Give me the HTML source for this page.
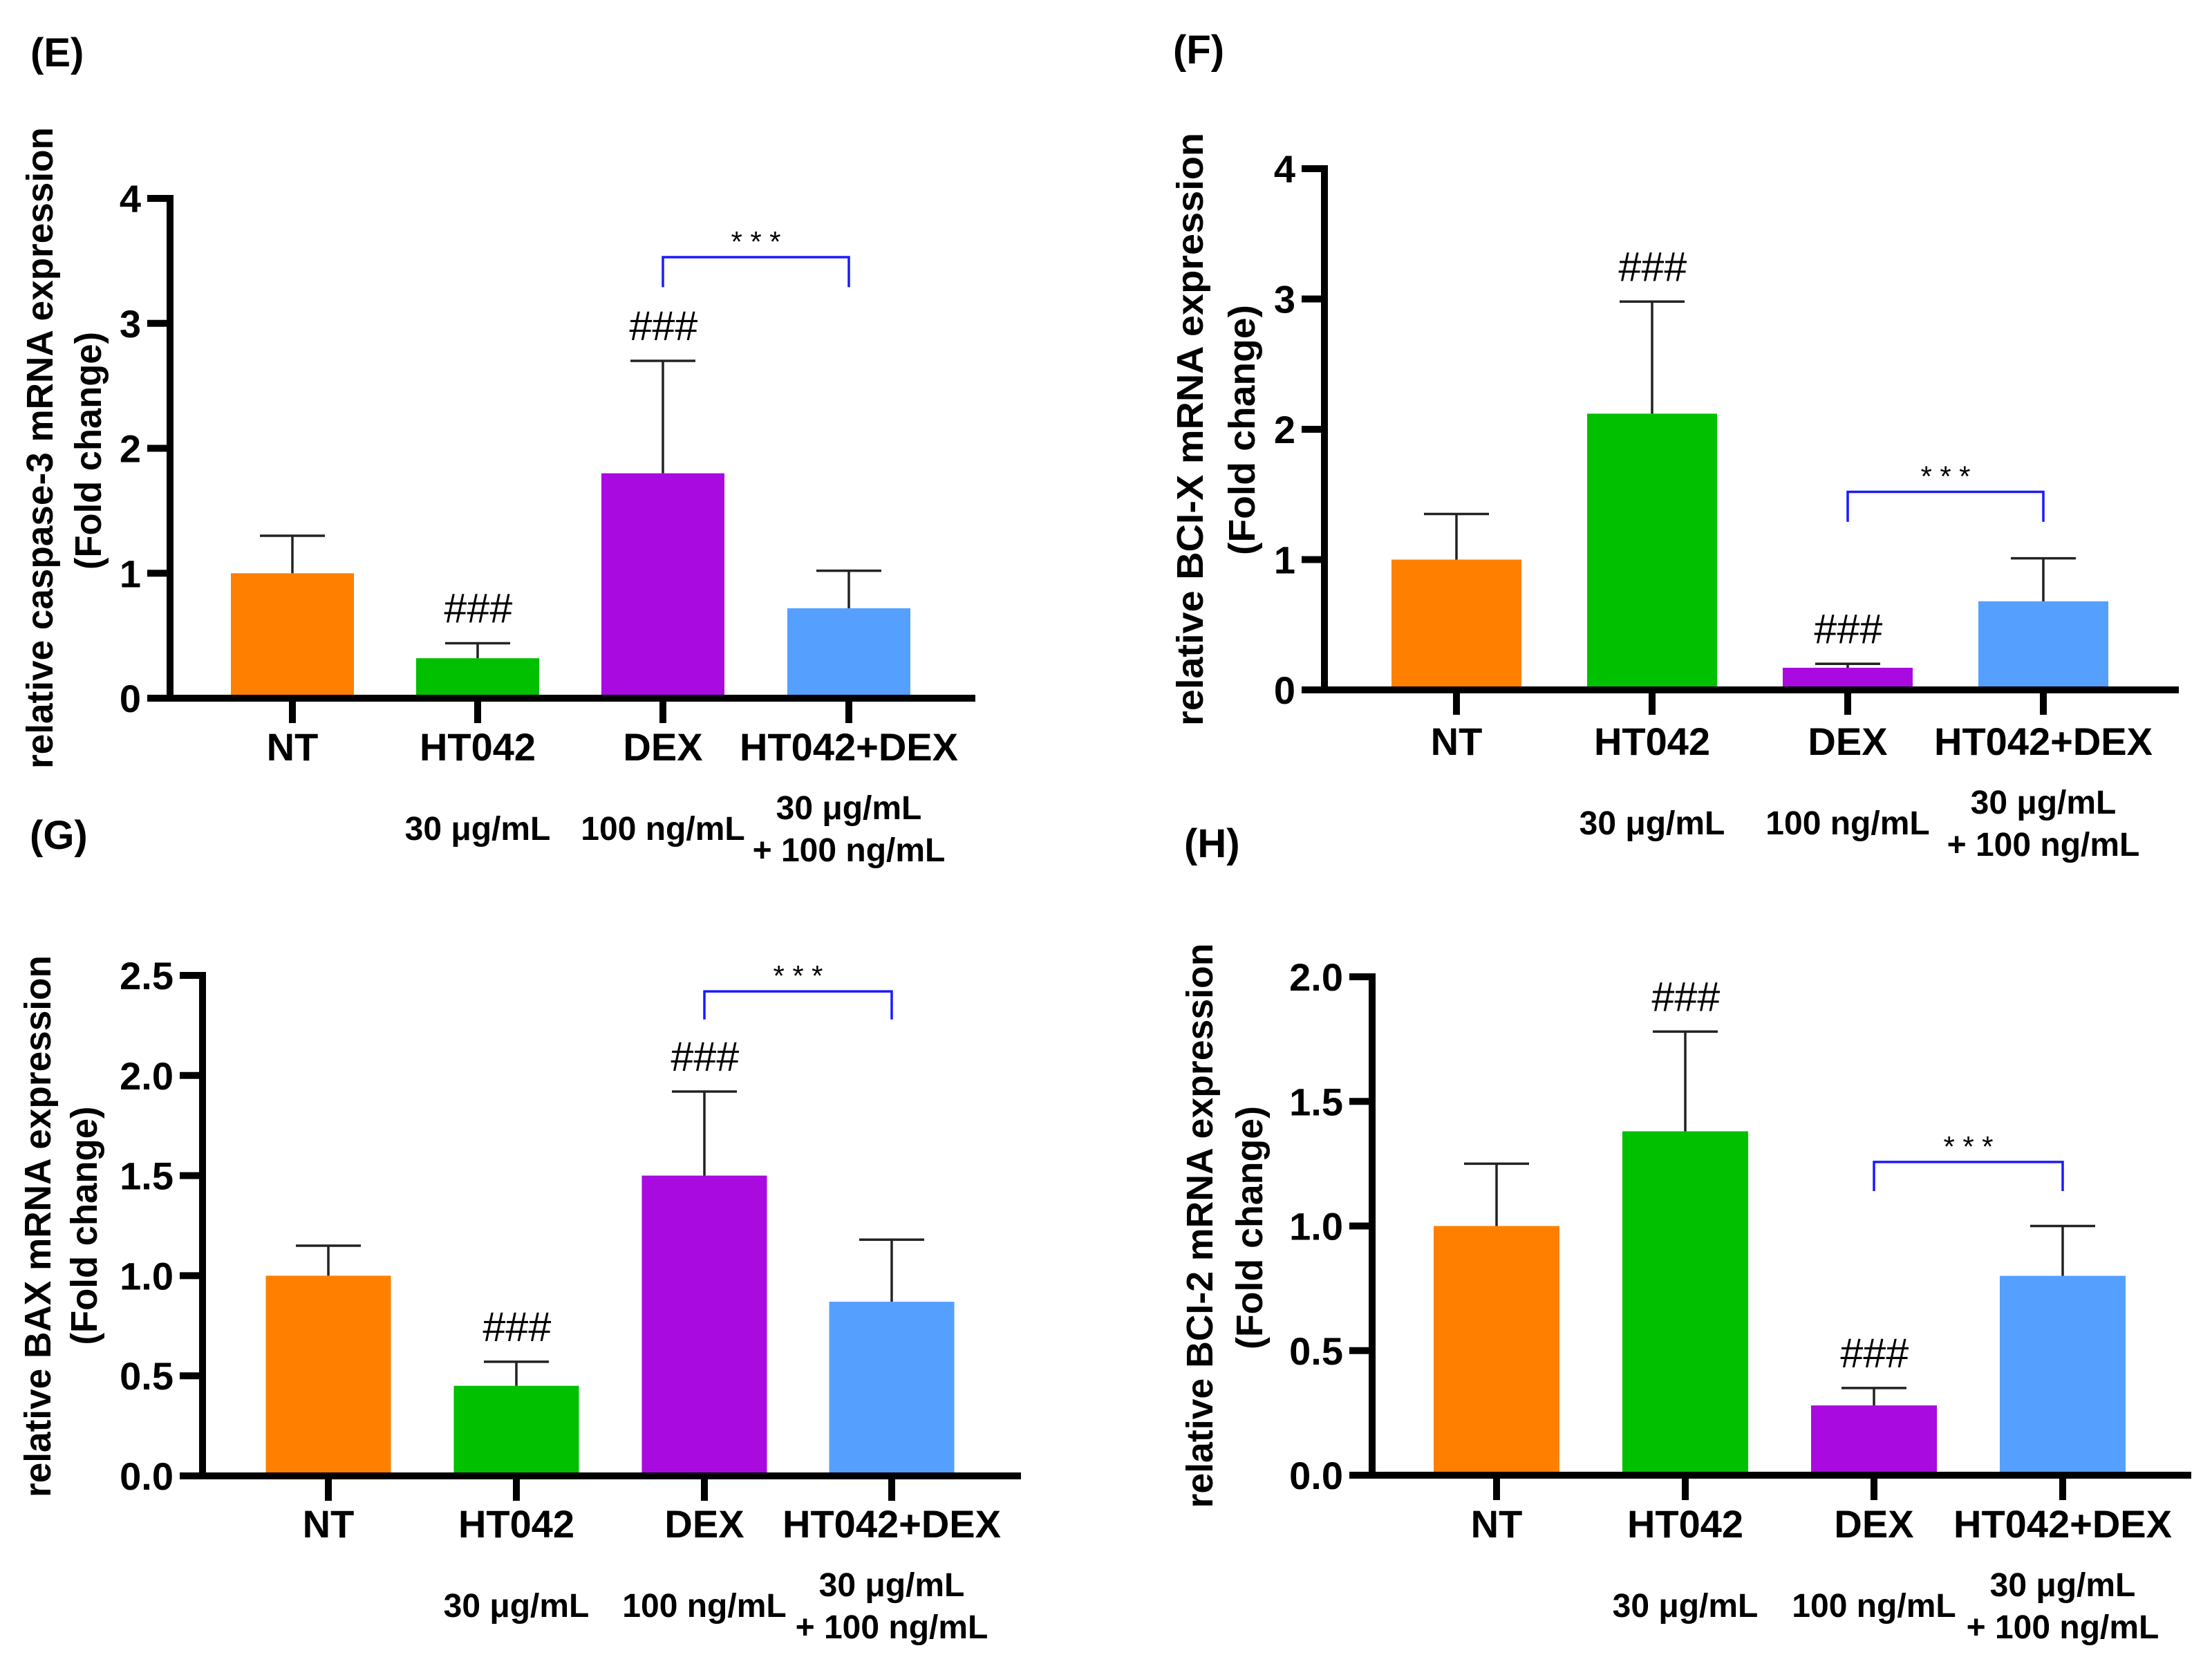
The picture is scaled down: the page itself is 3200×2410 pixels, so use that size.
<!DOCTYPE html>
<html><head><meta charset="utf-8"><style>
html,body{margin:0;padding:0;background:#fff;}
svg{display:block;}
text{font-family:"Liberation Sans",Arial,sans-serif;}
</style></head>
<body>
<svg id="fig" width="3200" height="2410" viewBox="0 0 3200 2410" xmlns="http://www.w3.org/2000/svg"></svg>
<script>
const categories = ["NT","HT042","DEX","HT042+DEX"];
const subLabels = ["", "30 μg/mL", "100 ng/mL", "30 μg/mL|+ 100 ng/mL"];
const colors = ["#FF8000","#00C000","#A90AE0","#55A0FF"];
const meansE = [1.0, 0.32, 1.8, 0.72];
const errE = [1.3, 0.44, 2.7, 1.02];
const ticksE = [0,1,2,3,4];
const tickLabelsE = ["0","1","2","3","4"];
const meansF = [1.0, 2.12, 0.17, 0.68];
const errF = [1.35, 2.98, 0.2, 1.01];
const ticksF = [0,1,2,3,4];
const tickLabelsF = ["0","1","2","3","4"];
const meansG = [1.0, 0.45, 1.5, 0.87];
const errG = [1.15, 0.57, 1.92, 1.18];
const ticksG = [0,0.5,1,1.5,2,2.5];
const tickLabelsG = ["0.0","0.5","1.0","1.5","2.0","2.5"];
const meansH = [1.0, 1.38, 0.28, 0.80];
const errH = [1.25, 1.78, 0.35, 1.0];
const ticksH = [0,0.5,1,1.5,2];
const tickLabelsH = ["0.0","0.5","1.0","1.5","2.0"];
const hashE = [false,true,true,false], hashF=[false,true,true,false], hashG=[false,true,true,false], hashH=[false,true,true,false];
const bracketE = [3.53, 3.29], bracketF = [1.52, 1.29], bracketG = [2.42, 2.28], bracketH = [1.257, 1.14];

const NS="http://www.w3.org/2000/svg";
const svg=document.getElementById('fig');
function mk(tag, attrs, parent, txt){
  const e=document.createElementNS(NS,tag);
  for(const k in attrs) e.setAttribute(k, attrs[k]);
  if(txt!==undefined) e.textContent=txt;
  (parent||svg).appendChild(e);
  return e;
}

const panels = [
 {id:"e", letter:"(E)", lx:44, ly:96, ax:246, y0:1010, yTop:287, yMax:4, xEnd:1411, centers:[423,691,959,1228], bw:178,
  means:meansE, errs:errE, ticks:ticksE, tl:tickLabelsE, hash:hashE, br:bracketE,
  title:"relative caspase-3 mRNA expression", t1x:58, t1c:648, t1l:928, t2x:128, t2c:652, t2l:344, catY:1100},
 {id:"f", letter:"(F)", lx:1697, ly:92, ax:1916, y0:998, yTop:244, yMax:4, xEnd:3152, centers:[2107,2390,2673,2956], bw:188,
  means:meansF, errs:errF, ticks:ticksF, tl:tickLabelsF, hash:hashF, br:bracketF,
  title:"relative BCI-X mRNA expression", t1x:1722, t1c:621, t1l:858, t2x:1797, t2c:622, t2l:362, catY:1092},
 {id:"g", letter:"(G)", lx:43, ly:1228, ax:293, y0:2135, yTop:1411, yMax:2.5, xEnd:1477, centers:[475,747,1019,1290], bw:181,
  means:meansG, errs:errG, ticks:ticksG, tl:tickLabelsG, hash:hashG, br:bracketG,
  title:"relative BAX mRNA expression", t1x:55, t1c:1774, t1l:784, t2x:122, t2c:1773, t2l:345, catY:2224},
 {id:"h", letter:"(H)", lx:1713, ly:1240, ax:1985, y0:2134, yTop:1413, yMax:2, xEnd:3170, centers:[2165,2438,2711,2984], bw:182,
  means:meansH, errs:errH, ticks:ticksH, tl:tickLabelsH, hash:hashH, br:bracketH,
  title:"relative BCI-2 mRNA expression", t1x:1736, t1c:1773, t1l:817, t2x:1808, t2c:1776, t2l:352, catY:2224}
];

panels.forEach(p=>{
  const g=mk('g',{});
  
  
  const yS = v => p.y0 - (v/p.yMax)*(p.y0-p.yTop);

  const lt=mk('text',{x:p.lx,y:p.ly,'font-size':58,'font-weight':'bold',fill:'#000'},g,p.letter);
  
  

  const t1=mk('text',{x:0,y:0,'font-size':54,'font-weight':'bold','text-anchor':'middle','dominant-baseline':'central',
    textLength:p.t1l,lengthAdjust:'spacingAndGlyphs',transform:`translate(${p.t1x},${p.t1c}) rotate(-90)`},g,p.title);
  
  
  const t2=mk('text',{x:0,y:0,'font-size':54,'font-weight':'bold','text-anchor':'middle','dominant-baseline':'central',
    textLength:p.t2l,lengthAdjust:'spacingAndGlyphs',transform:`translate(${p.t2x},${p.t2c}) rotate(-90)`},g,"(Fold change)");
  
  

  p.means.forEach((m,i)=>{
    const cx=p.centers[i];
    const b=mk('rect',{x:cx-p.bw/2,y:yS(m),width:p.bw,height:p.y0-yS(m),fill:colors[i]},g);
    
    
    const eb=mk('path',{d:`M${cx},${yS(m)} V${yS(p.errs[i])} M${cx-47},${yS(p.errs[i])} H${cx+47}`,stroke:'#222',
      'stroke-width':3.5,fill:'none'},g);
    
    
    if(p.hash[i]){
      const h=mk('text',{x:cx,y:yS(p.errs[i])-30,'font-size':60,'text-anchor':'middle',textLength:99,
        lengthAdjust:'spacingAndGlyphs','font-style':'italic',fill:'#000'},g,"###");
      
      
    }
  });

  const ya=mk('line',{x1:p.ax,y1:p.yTop-5,x2:p.ax,y2:p.y0+5,stroke:'#000','stroke-width':10},g);
  
  
  const xa=mk('line',{x1:p.ax-33,y1:p.y0,x2:p.xEnd,y2:p.y0,stroke:'#000','stroke-width':10},g);
  
  
  p.ticks.forEach((t,i)=>{
    const tk=mk('line',{x1:p.ax-33,y1:yS(t),x2:p.ax,y2:yS(t),stroke:'#000','stroke-width':10},g);
    
    
    const tx=mk('text',{x:p.ax-42,y:yS(t)+20,'font-size':56,'font-weight':'bold','text-anchor':'end'},g,p.tl[i]);
    
    
  });
  categories.forEach((c,i)=>{
    const cx=p.centers[i];
    const tk=mk('line',{x1:cx,y1:p.y0,x2:cx,y2:p.y0+36,stroke:'#000','stroke-width':10},g);
    
    
    const cl=mk('text',{x:cx,y:p.catY,'font-size':56,'font-weight':'bold','text-anchor':'middle'},g,c);
    
    
    const s=subLabels[i];
    if(s){
      const parts=s.split('|');
      if(parts.length===1){
        const sl=mk('text',{x:cx,y:p.catY+115,'font-size':48,'font-weight':'bold','text-anchor':'middle'},g,parts[0]);
        
        
      } else {
        const sl=mk('text',{x:cx,y:p.catY+85,'font-size':48,'font-weight':'bold','text-anchor':'middle'},g,parts[0]);
        
        
        const sl2=mk('text',{x:cx,y:p.catY+146,'font-size':48,'font-weight':'bold','text-anchor':'middle'},g,parts[1]);
        
        
      }
    }
  });

  const x1=p.centers[2], x2=p.centers[3], yt=yS(p.br[0]), yb=yS(p.br[1]);
  const br=mk('path',{d:`M${x1},${yb} V${yt} H${x2} V${yb}`,stroke:'#1a1aff','stroke-width':3.5,fill:'none'},g);
  
  
  const st=mk('text',{x:(x1+x2)/2,y:yt-8,'font-size':42,'text-anchor':'middle',textLength:72,lengthAdjust:'spacing'},g,"* * *");
  
  
});
</script>
</body></html>
